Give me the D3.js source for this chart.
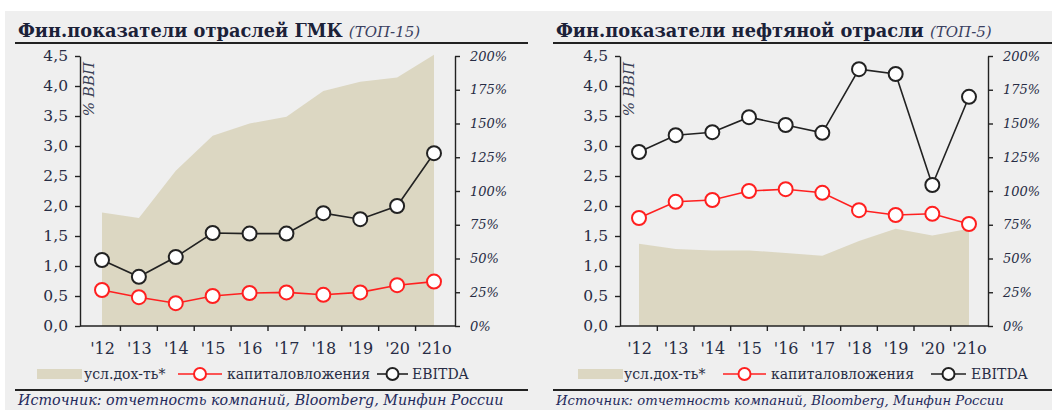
<!DOCTYPE html>
<html>
<head>
<meta charset="utf-8">
<script src="https://cdn.jsdelivr.net/npm/d3@7"></script>
<style>
  body { margin: 0; background: #fff; }
  svg { display: block; font-family: "DejaVu Serif", serif; }
  .tick text { fill: #272c44; }
  .domain { stroke: #222; stroke-width: 1.4; }
  .tick line { stroke: #222; stroke-width: 1.4; }
</style>
</head>
<body>
<svg id="chart"></svg>
<script>
// категории по оси X
const years = ["'12", "'13", "'14", "'15", "'16", "'17", "'18", "'19", "'20", "'21о"];

// ГМК (ТОП-15)
const gmkYield = [84, 80, 115, 141, 150, 155, 174, 181, 184, 201];   // усл.дох-ть*, %
const gmkCapex = [0.6, 0.48, 0.38, 0.5, 0.55, 0.56, 0.52, 0.56, 0.68, 0.74];
const gmkEbitda = [1.1, 0.82, 1.15, 1.55, 1.54, 1.54, 1.88, 1.78, 2.0, 2.88];

// нефтяная отрасль (ТОП-5)
const oilYield = [61, 57, 56, 56, 54, 52, 63, 72, 67, 72];
const oilCapex = [1.8, 2.07, 2.1, 2.25, 2.28, 2.22, 1.93, 1.85, 1.87, 1.7];
const oilEbitda = [2.9, 3.18, 3.23, 3.48, 3.35, 3.22, 4.28, 4.2, 2.35, 3.82];

// подписи осей
const leftTicks = [0, 0.5, 1, 1.5, 2, 2.5, 3, 3.5, 4, 4.5];
const rightTicks = [0, 25, 50, 75, 100, 125, 150, 175, 200];
const legendLabels = ["усл.дох-ть*", "капиталовложения", "EBITDA"];
const source = "Источник: отчетность компаний, Bloomberg, Минфин России";

const W = 1052, H = 410;
const svg = d3.select('#chart').attr('width', W).attr('height', H);

// фон
svg.append('rect').attr('x', 5).attr('y', 11).attr('width', W - 5).attr('height', H - 11).attr('fill', '#efefef');

const comma = d3.formatLocale({ decimal: ',', thousands: ' ', grouping: [3], currency: ['', ''] }).format('.1f');

const panels = [
    {
        title: 'Фин.показатели отраслей ГМК', sub: '(ТОП-15)',
        yieldV: gmkYield, capex: gmkCapex, ebitda: gmkEbitda,
        left: 15, right: 528, x0: 80, x1: 455, p0: 102, p1: 434,
        leg: [37, 84, 178, 222, 227, 377, 408, 412], srcSize: 14.3
    },
    {
        title: 'Фин.показатели нефтяной отрасли', sub: '(ТОП-5)',
        yieldV: oilYield, capex: oilCapex, ebitda: oilEbitda,
        left: 553, right: 1052, x0: 620, x1: 988, p0: 639, p1: 969,
        leg: [578, 624, 723, 766, 771, 931, 966, 971], srcSize: 13.2
    }
];

const yTop = 56, yBot = 326;
const yL = d3.scaleLinear().domain([0, 4.5]).range([yBot, yTop]);
const yR = d3.scaleLinear().domain([0, 200]).range([yBot, yTop]);

panels.forEach(p => {
    const g = svg.append('g');
    const x = d3.scalePoint().domain(years).range([p.p0, p.p1]);

    // заголовок
    const t = g.append('text').attr('x', p.left + 3).attr('y', 37).attr('fill', '#1b2138');
    t.append('tspan').attr('font-weight', 'bold').attr('font-size', 17.8).text(p.title + ' ');
    t.append('tspan').attr('font-style', 'italic').attr('font-size', 15).attr('fill', '#3a4060').text(p.sub);
    g.append('line').attr('x1', p.left).attr('x2', p.right).attr('y1', 43).attr('y2', 43)
        .attr('stroke', '#222').attr('stroke-width', 2);

    // область усл.дох-ть
    const area = d3.area()
        .x((d, i) => x(years[i]))
        .y0(yR(0))
        .y1(d => yR(d));
    g.append('path').datum(p.yieldV).attr('d', area).attr('fill', '#dcd7c2');

    // оси
    g.append('g').attr('transform', `translate(${p.x0},0)`)
        .call(d3.axisLeft(yL).tickValues(leftTicks).tickFormat(comma).tickSize(5).tickSizeOuter(0).tickPadding(7))
        .call(a => a.selectAll('text').attr('font-size', 15.5).attr('font-family', 'DejaVu Serif'));
    g.append('g').attr('transform', `translate(${p.x1},0)`)
        .call(d3.axisRight(yR).tickValues(rightTicks).tickFormat(d => d + '%').tickSize(5).tickSizeOuter(0).tickPadding(10))
        .call(a => a.selectAll('text').attr('font-size', 13).attr('font-style', 'italic').attr('font-family', 'DejaVu Serif'));

    // ось X: подписи по точкам, засечки между ними
    g.append('g').attr('transform', `translate(0,${yBot})`)
        .call(d3.axisBottom(x).tickSize(0).tickPadding(17))
        .call(a => a.select('.domain').remove())
        .call(a => a.selectAll('text').attr('font-size', 16).attr('font-family', 'DejaVu Serif'));
    g.append('line').attr('x1', p.x0).attr('x2', p.x1).attr('y1', yBot).attr('y2', yBot)
        .attr('stroke', '#222').attr('stroke-width', 1.4);
    const mids = d3.pairs(years).map(([a, b]) => (x(a) + x(b)) / 2);
    g.selectAll('.xtick').data(mids).join('line').attr('class', 'xtick')
        .attr('x1', d => d).attr('x2', d => d).attr('y1', yBot).attr('y2', yBot + 5)
        .attr('stroke', '#222').attr('stroke-width', 1.4);

    // % ВВП
    g.append('text').attr('transform', `translate(${p.x0 + 14},${yTop + 6}) rotate(-90)`)
        .attr('text-anchor', 'end').attr('font-size', 15).attr('font-style', 'italic')
        .attr('fill', '#3a3f55').text('% ВВП');

    // линии и маркеры
    const series = [
        { vals: p.capex, color: '#ff2020' },
        { vals: p.ebitda, color: '#222' }
    ];
    series.forEach(s => {
        const line = d3.line().x((d, i) => x(years[i])).y(d => yL(d));
        g.append('path').datum(s.vals).attr('d', line).attr('fill', 'none')
            .attr('stroke', s.color).attr('stroke-width', 1.6);
        g.selectAll(null).data(s.vals).join('circle')
            .attr('cx', (d, i) => x(years[i])).attr('cy', d => yL(d)).attr('r', 7)
            .attr('fill', '#fff').attr('stroke', s.color).attr('stroke-width', 2);
    });

    // легенда
    const L = p.leg, ly = 374;
    g.append('rect').attr('x', L[0]).attr('y', ly - 5).attr('width', 45).attr('height', 10).attr('fill', '#dcd7c2');
    const lt = (xx, s) => g.append('text').attr('x', xx).attr('y', ly + 5).attr('font-size', 14)
        .attr('fill', '#272c44').text(s);
    lt(L[1], legendLabels[0]);
    g.append('line').attr('x1', L[2]).attr('x2', L[3]).attr('y1', ly).attr('y2', ly)
        .attr('stroke', '#ff2020').attr('stroke-width', 1.6);
    g.append('circle').attr('cx', (L[2] + L[3]) / 2).attr('cy', ly).attr('r', 6)
        .attr('fill', '#fff').attr('stroke', '#ff2020').attr('stroke-width', 2);
    lt(L[4], legendLabels[1]);
    g.append('line').attr('x1', L[5]).attr('x2', L[6]).attr('y1', ly).attr('y2', ly)
        .attr('stroke', '#222').attr('stroke-width', 1.6);
    g.append('circle').attr('cx', (L[5] + L[6]) / 2).attr('cy', ly).attr('r', 6)
        .attr('fill', '#fff').attr('stroke', '#222').attr('stroke-width', 2);
    lt(L[7], legendLabels[2]);

    // источник
    g.append('line').attr('x1', p.left).attr('x2', p.right).attr('y1', 390).attr('y2', 390)
        .attr('stroke', '#222').attr('stroke-width', 2);
    g.append('text').attr('x', p.left + 3).attr('y', 405).attr('font-size', p.srcSize)
        .attr('font-style', 'italic').attr('fill', '#1f2a5c').text(source);
});
</script>
</body>
</html>
